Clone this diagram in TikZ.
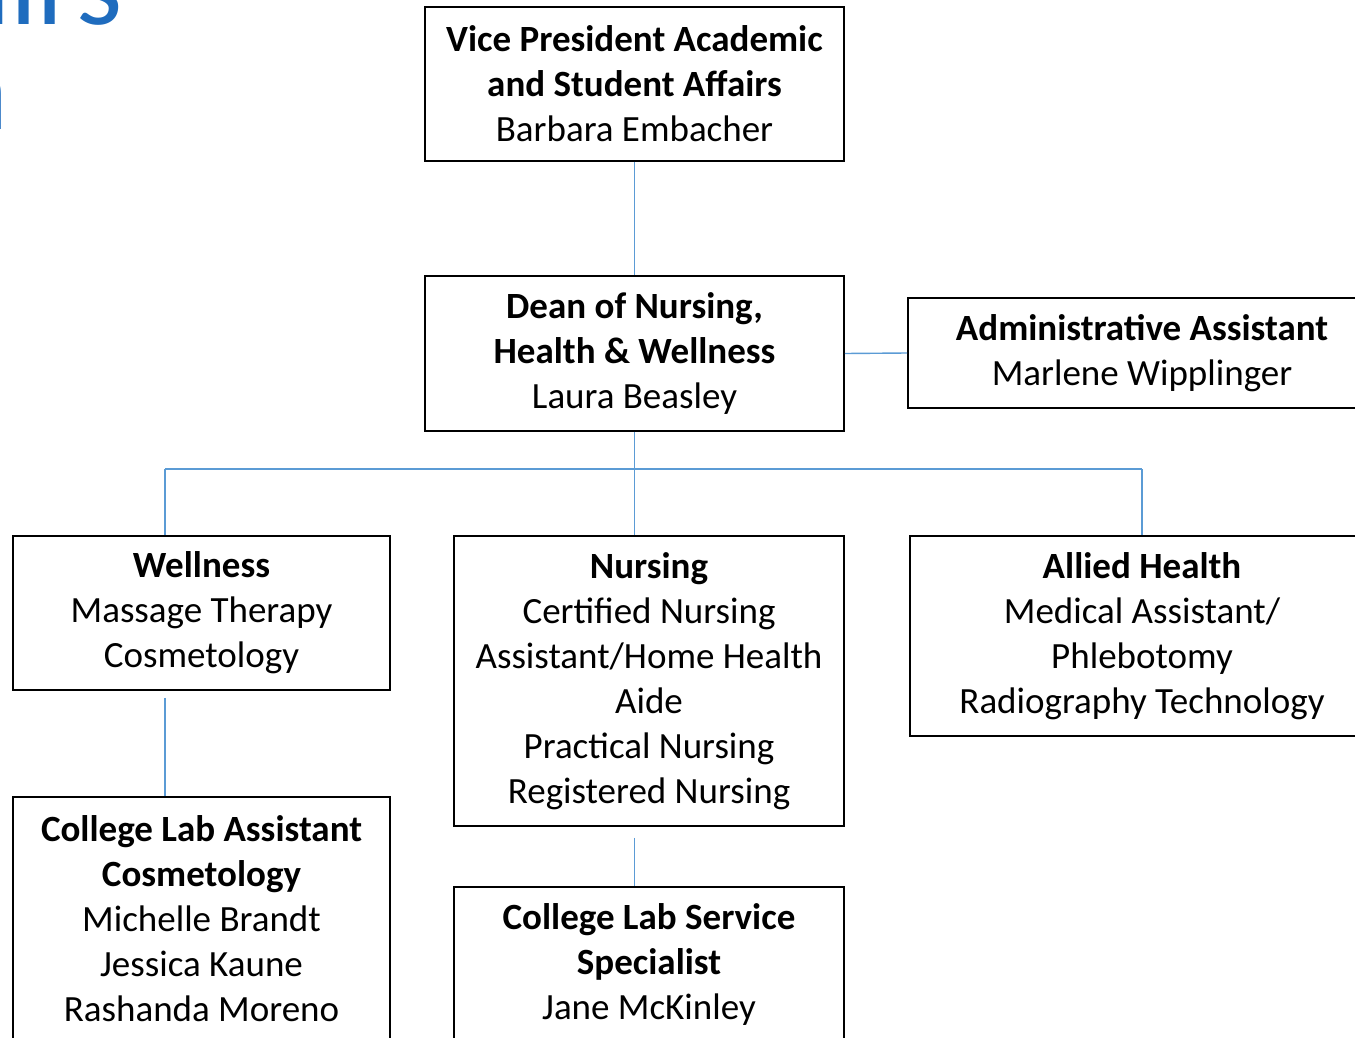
\documentclass[tikz,border=0pt]{standalone}
\usepackage{fontspec}
\setmainfont{Carlito}
\usetikzlibrary{positioning}
\definecolor{titleblue}{RGB}{31,108,190}
\definecolor{linkblue}{RGB}{91,155,213}

\begin{document}
\begin{tikzpicture}[x=1pt,y=-1pt,
    box/.style={draw,line width=1.8pt,align=center,inner sep=0pt,
      font=\fontsize{37}{45}\selectfont},
    link/.style={draw=linkblue,line width=1.4pt}]
        \clip (0,0) rectangle (1355,1038);
        \useasboundingbox (0,0) rectangle (1355,1038);
        % title, cut off at the page edge
        \node[anchor=base east,inner sep=0pt,text=titleblue,font=\fontsize{118}{118}\selectfont] (title1) at (123,25) {Affairs};
        \node[anchor=base east,inner sep=0pt,text=titleblue,font=\fontsize{118}{118}\selectfont] (title2) at (9,130) {n};
        % boxes
        \node[box,minimum width=419,minimum height=154] (vp) at (634.5,84) {\textbf{Vice President Academic}\\\textbf{and Student Affairs}\\Barbara Embacher};
        \node[box,minimum width=419,minimum height=155] (dean) at (634.5,353.5) {\textbf{Dean of Nursing,}\\\textbf{Health \& Wellness}\\Laura Beasley};
        \node[box,minimum width=468,minimum height=110] (admin) at (1142,353) {\textbf{Administrative Assistant}\\Marlene Wipplinger};
        \node[box,minimum width=377,minimum height=154] (wellness) at (201.5,613) {\textbf{Wellness}\\Massage Therapy\\Cosmetology};
        \node[box,minimum width=390,minimum height=290] (nursing) at (649,681) {\textbf{Nursing}\\Certified Nursing\\Assistant/Home Health\\Aide\\Practical Nursing\\Registered Nursing};
        \node[box,minimum width=464,minimum height=200] (allied) at (1142,636) {\textbf{Allied Health}\\Medical Assistant/\\Phlebotomy\\Radiography Technology};
        \node[box,minimum width=377,minimum height=244] (labasst) at (201.5,919) {\textbf{College Lab Assistant}\\\textbf{Cosmetology}\\Michelle Brandt\\Jessica Kaune\\Rashanda Moreno};
        \node[box,minimum width=390,minimum height=154] (labspec) at (649,964) {\textbf{College Lab Service}\\\textbf{Specialist}\\Jane McKinley};
        % connectors
        \coordinate (busL) at (165,469);
        \coordinate (busR) at (1142,469);
        \path[link] (vp.south) -- (dean.north);
        \path[link] (dean.east) -- (admin.west);
        \path[link] (dean.south) -- (dean.south |- nursing.north);
        \path[link] (busL) -- (busR);
        \path[link] (busL) -- (busL |- wellness.north);
        \path[link] (busR) -- (allied.north);
        \path[link] ([yshift=-7pt]busL |- wellness.south) -- (busL |- labasst.north);
        \path[link] ([yshift=-11pt]dean.south |- nursing.south) -- (dean.south |- labspec.north);
\end{tikzpicture}
\end{document}
